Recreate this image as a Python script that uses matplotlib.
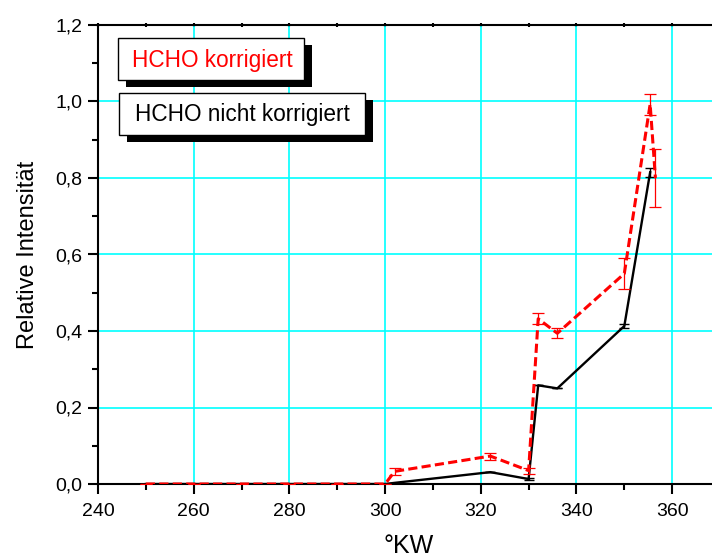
import matplotlib
matplotlib.use("Agg")
import matplotlib.pyplot as plt
from matplotlib.patches import Rectangle
from matplotlib.ticker import MultipleLocator, FuncFormatter

plt.rcParams['font.family'] = ['Liberation Sans', 'DejaVu Sans']

# Crank angle (°KW) and relative intensity of HCHO
kw_korr = [250, 260, 270, 280, 290, 300, 302, 322, 330, 332, 336, 350, 355.4, 356.5]
int_korr = [0, 0, 0, 0, 0, 0, 0.033, 0.073, 0.035, 0.432, 0.394, 0.55, 0.993, 0.80]
err_korr = [0, 0, 0, 0, 0, 0, 0.010, 0.009, 0.008, 0.015, 0.013, 0.040, 0.027, 0.075]

kw_nk = [250, 260, 270, 280, 290, 300, 302, 322, 330, 332, 336, 350, 355.4]
int_nk = [0, 0, 0, 0, 0, 0, 0.003, 0.031, 0.013, 0.258, 0.250, 0.413, 0.815]
err_nk = [0, 0, 0, 0, 0, 0, 0, 0, 0.003, 0, 0, 0.006, 0.012]

W, H = 712, 559
fig = plt.figure(figsize=(W / 100, H / 100), dpi=100)
ax = fig.add_axes([98 / W, (H - 484) / H, 622 / W, 459 / H])

ax.errorbar(kw_nk, int_nk, yerr=err_nk, color='black', lw=1.7, capsize=3.5,
            elinewidth=1.0, capthick=1.0, zorder=3)
ax.errorbar(kw_korr, int_korr, yerr=err_korr, color='red', lw=2.2,
            dashes=(3, 1.4), capsize=4, elinewidth=0.9, capthick=0.9, zorder=4)

ax.set_xlim(240, 370)
ax.set_ylim(0, 1.2)
ax.xaxis.set_major_locator(MultipleLocator(20))
ax.xaxis.set_minor_locator(MultipleLocator(10))
ax.yaxis.set_major_locator(MultipleLocator(0.2))
ax.yaxis.set_minor_locator(MultipleLocator(0.1))
ax.yaxis.set_major_formatter(FuncFormatter(lambda v, p: f"{v:.1f}".replace('.', ',')))
ax.xaxis.set_major_formatter(FuncFormatter(lambda v, p: f"{v:.0f}"))

ax.grid(True, which='major', color='#00FFFF', lw=1.2, zorder=0)
ax.set_axisbelow(True)

for s in ('left', 'bottom', 'top'):
    ax.spines[s].set_linewidth(1.5)
ax.spines['right'].set_visible(False)

ax.tick_params(which='major', direction='out', length=7, width=1.5, labelsize=14, pad=4)
ax.tick_params(axis='x', which='major', pad=7)
ax.tick_params(which='minor', direction='out', length=4, width=1.5)

top = ax.secondary_xaxis('top')
top.xaxis.set_major_locator(MultipleLocator(20))
top.xaxis.set_minor_locator(MultipleLocator(10))
top.tick_params(which='both', direction='inout', length=3, width=1.5, labeltop=False)
top.spines['top'].set_visible(False)

ax.set_xlabel('°KW', fontsize=18, labelpad=10)
ax.set_ylabel('Relative Intensität', fontsize=17, labelpad=12)


def fig_rect(x0, y0, x1, y1, **kw):
    r = Rectangle((x0 / W, 1 - y1 / H), (x1 - x0) / W, (y1 - y0) / H,
                  transform=fig.transFigure, **kw)
    fig.add_artist(r)


# labelled boxes with drop shadows
fig_rect(126, 45, 312, 87, facecolor='black', edgecolor='none', zorder=5)
fig_rect(118, 38, 304, 80, facecolor='white', edgecolor='black', lw=1.0, zorder=6)
fig.text(212 / W, 1 - 60 / H, 'HCHO korrigiert', color='red', fontsize=16.3,
         ha='center', va='center', zorder=7)

fig_rect(127, 100, 373, 142, facecolor='black', edgecolor='none', zorder=5)
fig_rect(119, 93, 365, 135, facecolor='white', edgecolor='black', lw=1.0, zorder=6)
fig.text(242 / W, 1 - 115 / H, 'HCHO nicht korrigiert', color='black', fontsize=16.3,
         ha='center', va='center', zorder=7)

fig.savefig('out.png', dpi=100)
